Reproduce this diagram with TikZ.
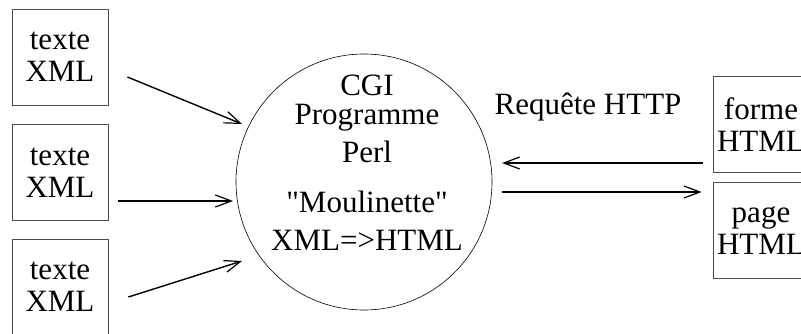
\documentclass[tikz,border=0pt]{standalone}
\usepackage{fontspec}
\setmainfont{Liberation Serif}
\usetikzlibrary{arrows.meta}

\tikzset{
  doc/.style={draw=black!70, line width=0.8pt, minimum width=96pt, minimum height=96pt, align=center, inner sep=0pt},
  flow/.style={line width=1.4pt, -{Straight Barb[length=16pt,width=12pt,line width=1.2pt]}}
}

\begin{document}
\begin{tikzpicture}[x=1pt,y=-1pt,font=\fontsize{31}{32}\selectfont]
\useasboundingbox (0,0) rectangle (801,334);
%textes XML
\node[doc] (t1) at (60,57) {texte\\XML};
\node[doc] (t2) at (60,172.5) {texte\\XML};
\node[doc] (t3) at (60,287) {texte\\XML};
%programme
\node[draw, circle, line width=0.6pt, minimum size=256pt, inner sep=0pt] (prog) at (364,182) {};
\node[align=center, anchor=base] (progtxt) at (367,250)
  {CGI\\[-3pt]Programme\\[6pt]Perl\\[18pt]\textquotedbl Moulinette\textquotedbl\\[6pt]XML=>HTML};
%HTML
\node[doc] (f) at (761,124.5) {forme\\HTML};
\node[doc] (p) at (761,230.5) {page\\HTML};
\node[anchor=base] (req) at (588,115) {Requête HTTP};
%fleches
\draw[flow] ([shift={(19,20)}]t1.east) -- ([shift={(-122,-58)}]prog.center);
\draw[flow] ([shift={(10,28.5)}]t2.east) -- ([shift={(-131,19)}]prog.center);
\draw[flow] ([shift={(20,10)}]t3.east) -- ([shift={(-122,79)}]prog.center);
\draw[flow] ([shift={(-10,38.5)}]f.west) -- ([shift={(138,-19)}]prog.center);
\draw[flow] ([shift={(138,10)}]prog.center) -- ([shift={(-11,-38.5)}]p.west);
\end{tikzpicture}
\end{document}
